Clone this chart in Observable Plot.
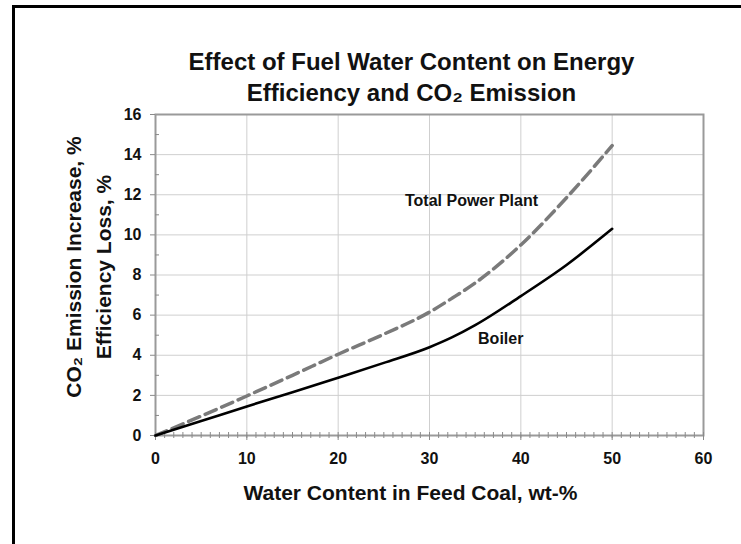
<!DOCTYPE html>
<html><head><meta charset="utf-8">
<script src="https://cdn.jsdelivr.net/npm/d3@7"></script>
<script src="https://cdn.jsdelivr.net/npm/@observablehq/plot@0.6"></script>
<style>
body{margin:0;background:#fff;}
#wrap{position:relative;width:741px;height:544px;overflow:hidden;background:#fff;}
#border{position:absolute;left:12px;top:5px;width:800px;height:600px;border-top:3px solid #000;border-left:3px solid #000;pointer-events:none;}
</style></head><body>
<div id="wrap"><div id="border"></div></div>
<script>
// ---- data ----
const waterContent = [0, 5, 10, 15, 20, 25, 30, 32.5, 35, 40, 45, 50];
const boilerLoss   = [0, 0.72, 1.45, 2.15, 2.88, 3.62, 4.4, 4.9, 5.5, 6.95, 8.5, 10.3];
const totalLoss    = [0, 0.97, 1.97, 3.0, 4.05, 5.05, 6.15, 6.85, 7.6, 9.5, 11.85, 14.45];
const seriesNames  = ["Boiler", "Total Power Plant"];
const xTicks = [0, 10, 20, 30, 40, 50, 60];
const yTicks = [0, 2, 4, 6, 8, 10, 12, 14, 16];
const xMinor = d3.range(0, 61, 1);
const yMinor = d3.range(1, 16, 2);
const titleLines = ["Effect of Fuel Water Content on Energy", "Efficiency and CO\u2082 Emission"];
const yLabelLines = ["CO\u2082 Emission Increase, %", "Efficiency Loss, %"];
const xLabel = "Water Content in Feed Coal, wt-%";
const seriesLabelX = [37.8, 34.6];
const seriesLabelY = [4.8, 11.7];

// ---- tables ----
const boilerData = waterContent.map((x, i) => ({x, y: boilerLoss[i]}));
const totalData = waterContent.map((x, i) => ({x, y: totalLoss[i]}));
const labelData = seriesNames.map((name, i) => ({name, x: seriesLabelX[i], y: seriesLabelY[i]}));

const font = "'Liberation Sans', Arial, sans-serif";

const chart = Plot.plot({
  width: 741,
  height: 544,
  marginLeft: 155,
  marginRight: 38,
  marginTop: 114,
  marginBottom: 109,
  style: {fontFamily: font, fontWeight: "bold", fontSize: "16px", background: "transparent", color: "#000"},
  x: {domain: [0, 60]},
  y: {domain: [0, 16]},
  marks: [
    Plot.gridX(xTicks, {stroke: "#cfcfcf", strokeOpacity: 1, strokeWidth: 1}),
    Plot.gridY(yTicks, {stroke: "#cfcfcf", strokeOpacity: 1, strokeWidth: 1}),
    Plot.frame({stroke: "#9a9a9a", strokeWidth: 2}),
    Plot.axisX(xMinor, {tickSize: 6, dy: -3, tickFormat: () => "", stroke: "#8a8a8a", label: null}),
    Plot.axisY(yMinor, {tickSize: 4, dx: 4, tickFormat: () => "", stroke: "#8a8a8a", label: null}),
    Plot.axisX(xTicks, {tickSize: 5, tickPadding: 12, fontSize: 16, stroke: "#8a8a8a", fill: "#111", label: null}),
    Plot.axisY(yTicks, {tickSize: 5, tickPadding: 9, fontSize: 16, stroke: "#8a8a8a", fill: "#111", label: null}),
    Plot.line(totalData, {x: "x", y: "y", curve: "monotone-x", stroke: "#7a7a7a", strokeWidth: 3.5, strokeDasharray: "12,6"}),
    Plot.line(boilerData, {x: "x", y: "y", curve: "monotone-x", stroke: "#000", strokeWidth: 2.6}),
    Plot.text(labelData, {x: "x", y: "y", text: "name", fontSize: 16, fontWeight: "bold", fill: "#111"}),
    Plot.text([titleLines.join("\n")], {frameAnchor: "top", lineAnchor: "top", dx: -18, dy: -66, fontSize: 24, lineHeight: 1.29, fontWeight: "bold", fill: "#111"}),
    Plot.text([xLabel], {frameAnchor: "bottom", lineAnchor: "middle", dx: -19, dy: 58, fontSize: 21, fontWeight: "bold", fill: "#111"}),
    Plot.text([yLabelLines.join("\n")], {frameAnchor: "left", textAnchor: "middle", lineAnchor: "middle", rotate: -90, dx: -69, dy: -8, fontSize: 21, lineHeight: 1.43, fontWeight: "bold", fill: "#111"})
  ]
});
chart.style.position = "absolute";
chart.style.left = "0px";
chart.style.top = "0px";
document.getElementById("wrap").prepend(chart);
</script>
</body></html>
